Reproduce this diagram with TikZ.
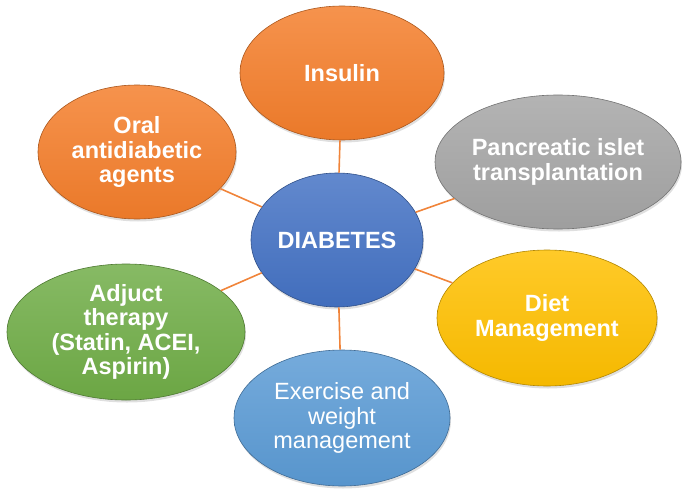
\documentclass[tikz,border=0pt]{standalone}
\usepackage{fontspec}
\setmainfont{Liberation Sans}
\usepackage{xcolor}
\usepackage{tikz}
\usetikzlibrary{shapes.geometric,shadows}

\definecolor{naranja}{HTML}{F47E2B}
\definecolor{gris}{HTML}{A5A5A5}
\definecolor{azul}{HTML}{4472C4}
\definecolor{verde}{HTML}{70AD47}
\definecolor{amarillo}{HTML}{FFC000}
\definecolor{celeste}{HTML}{5B9BD5}
\definecolor{linea}{HTML}{F0843A}

\begin{document}
\begin{tikzpicture}[x=1pt,y=-1pt,semithick,
  tinte/.style={top color=#1!84!white,bottom color=#1!96!black,draw=#1!70!black,line width=0.6pt}]
\useasboundingbox (0,0) rectangle (695,500);
\tikzstyle{bubble}=[ellipse,inner sep=0pt,text=white,align=center,
  font=\fontsize{23.5}{24.5}\selectfont\bfseries,
  drop shadow={opacity=0.25,shadow xshift=1pt,shadow yshift=-2.5pt}]
\tikzstyle{every edge}=[draw=linea,line width=1.6pt]
%elipses
\node[bubble,tinte=azul,minimum width=172pt,minimum height=134pt] (dia) at (337,240) {DIABETES};
\node[bubble,tinte=naranja,minimum width=204pt,minimum height=134pt] (ins) at (342,73) {Insulin};
\node[bubble,tinte=naranja,minimum width=198pt,minimum height=134pt] (oral) at (137,152) {Oral\\antidiabetic\\agents};
\node[bubble,tinte=gris,minimum width=246pt,minimum height=134pt] (pan) at (558,162) {Pancreatic islet\\transplantation};
\node[bubble,tinte=amarillo,minimum width=220pt,minimum height=136pt] (diet) at (547,318) {Diet\\Management};
\node[bubble,tinte=verde,minimum width=238pt,minimum height=136pt] (adj) at (126,332) {Adjuct\\therapy\\(Statin, ACEI,\\Aspirin)};
\node[bubble,tinte=celeste,minimum width=216pt,minimum height=136pt,
  font=\fontsize{23.5}{24.5}\selectfont] (eje) at (342,418) {Exercise and\\weight\\management};
%conexiones
\path (dia) edge (ins)
            edge (oral)
            edge (pan)
            edge (diet)
            edge (adj)
            edge (eje);
\end{tikzpicture}
\end{document}
